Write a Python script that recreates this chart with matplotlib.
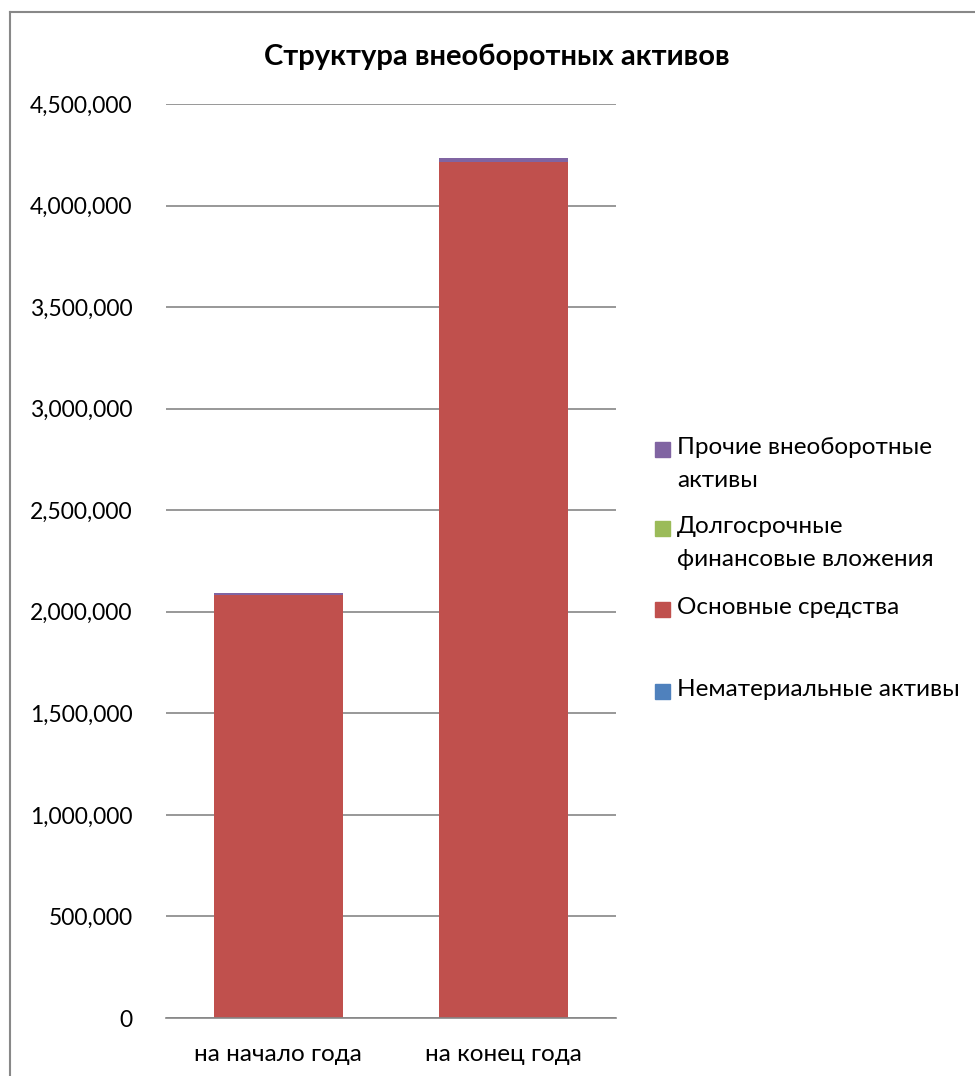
import matplotlib.pyplot as plt
from matplotlib.lines import Line2D
from matplotlib.patches import Rectangle
from matplotlib.ticker import FuncFormatter

plt.rcParams['font.family'] = ['Lato', 'Open Sans', 'DejaVu Sans']

periods = ['на начало года', 'на конец года']
series_names = ['Нематериальные активы', 'Основные средства',
                'Долгосрочные\nфинансовые вложения', 'Прочие внеоборотные\nактивы']
series_colors = ['#4F81BD', '#C0504D', '#9BBB59', '#8064A2']
intangible = [400, 500]
fixed_assets = [2082000, 4215000]
long_term_fin = [0, 0]
other_assets = [12000, 17000]
values = [intangible, fixed_assets, long_term_fin, other_assets]

fig = plt.figure(figsize=(9.75, 10.76), dpi=100)
ax = fig.add_axes([0.170, 0.0539, 0.462, 0.8494])

x = list(range(len(periods)))
bottom = [0] * len(periods)
for vals, color in zip(values, series_colors):
    ax.bar(x, vals, width=0.57, bottom=bottom, color=color, zorder=2)
    bottom = [b + v for b, v in zip(bottom, vals)]

ax.set_xlim(-0.5, 1.5)
ax.set_ylim(0, 4500000)
ax.set_yticks(range(0, 4500001, 500000))
ax.yaxis.set_major_formatter(FuncFormatter(lambda v, p: f'{int(v):,}'))
ax.grid(axis='y', color='#868686', linewidth=1.2, zorder=0)
ax.set_xticks(x)
ax.set_xticklabels(periods)
ax.tick_params(axis='both', length=0, colors='black')
ax.tick_params(axis='x', pad=19, labelsize=17.5)
ax.tick_params(axis='y', pad=24, labelsize=16.5)
for side in ['top', 'right', 'left']:
    ax.spines[side].set_visible(False)
ax.spines['bottom'].set_color('#868686')
ax.spines['bottom'].set_linewidth(1.2)

fig.text(0.51, 0.947, 'Структура внеоборотных активов', ha='center', va='center',
         fontsize=21, fontweight='bold')

# legend, drawn top to bottom in reverse series order
W, H = 975, 1076
legend_y = [450, 529, 610, 692]
for name, color, y in zip(series_names[::-1], series_colors[::-1], legend_y):
    fig.patches.append(Rectangle((655 / W, 1 - (y + 7) / H), 15 / W, 15 / H,
                                 transform=fig.transFigure, color=color))
    fig.text(677 / W, 1 - (y - 13) / H, name, ha='left', va='top',
             fontsize=17.5, linespacing=1.7)

# chart area border (left and top edges)
fig.lines.append(Line2D([10 / W, 10 / W], [0, 1 - 12 / H], transform=fig.transFigure,
                        color='#888888', linewidth=1.5))
fig.lines.append(Line2D([10 / W, 1], [1 - 12 / H, 1 - 12 / H], transform=fig.transFigure,
                        color='#888888', linewidth=1.5))

fig.savefig('out.png', dpi=100, facecolor='white')
